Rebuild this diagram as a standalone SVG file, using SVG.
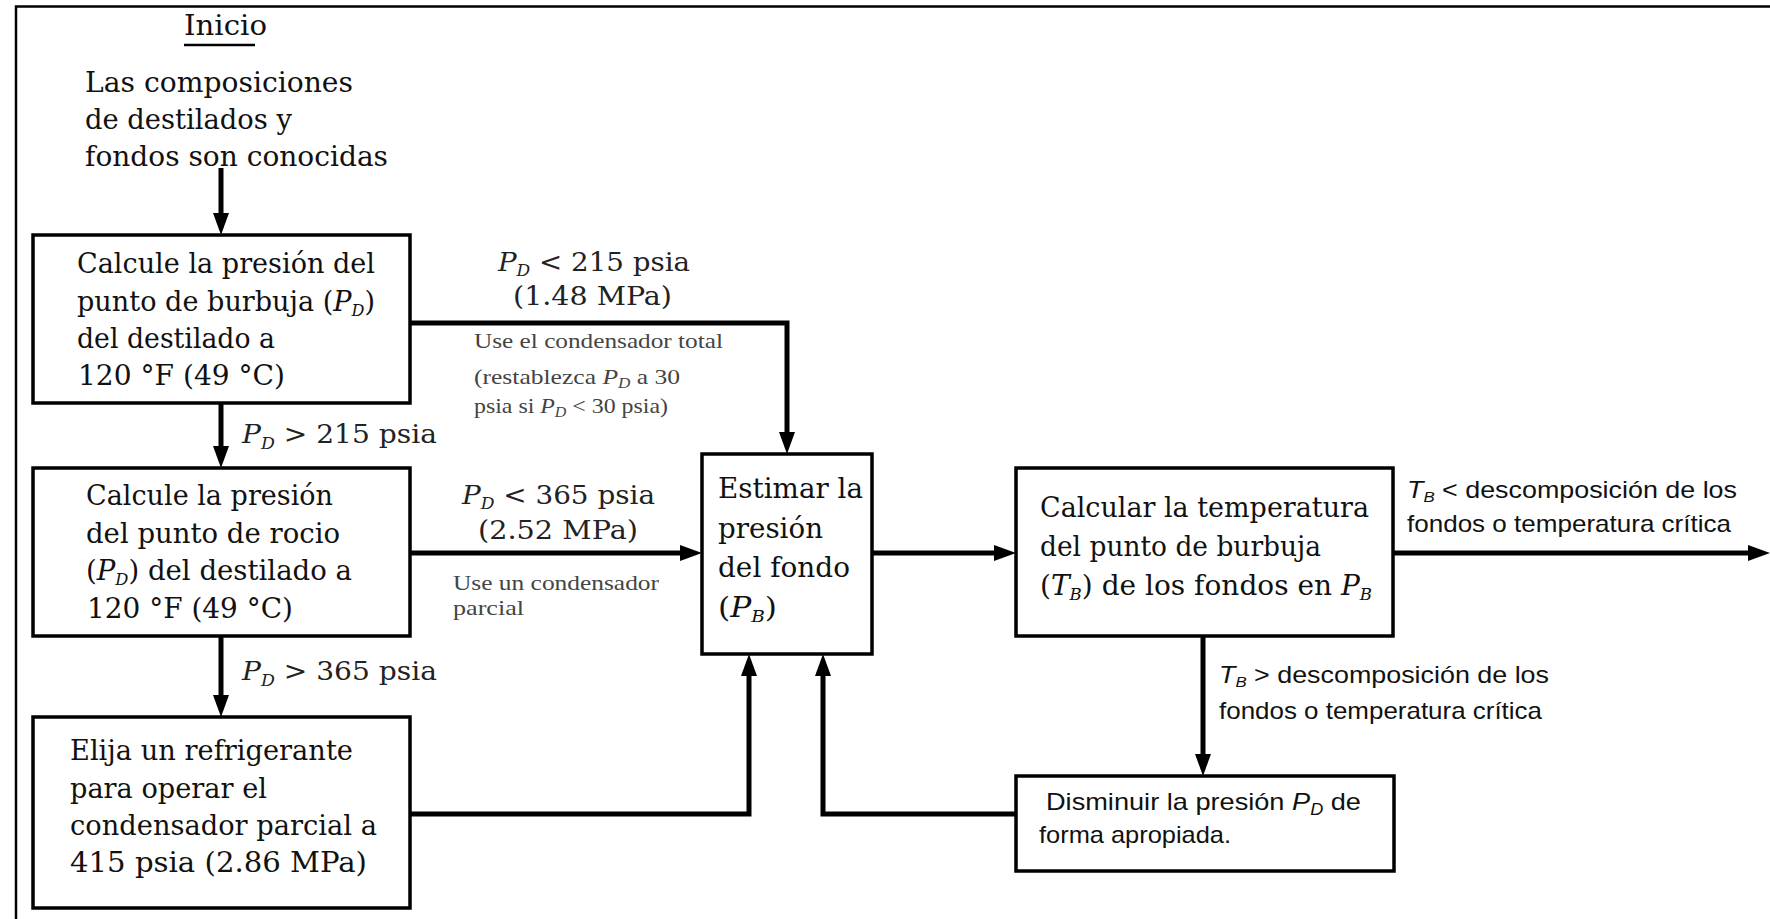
<svg xmlns="http://www.w3.org/2000/svg" width="1770" height="919" viewBox="0 0 1770 919">
<style>
.frame{fill:none;stroke:#000;stroke-width:2.5}
.box{fill:#fff;stroke:#000;stroke-width:3.5}
.conn{fill:none;stroke:#000;stroke-width:5}
.t{font-family:"DejaVu Serif","Liberation Serif",serif;font-size:27px;fill:#111}
.lab{font-family:"DejaVu Serif","Liberation Serif",serif;font-size:26px;fill:#222}
.sm{font-family:"Liberation Serif","DejaVu Serif",serif;font-size:21px;fill:#444}
.ss{font-family:"Liberation Sans","Noto Sans",sans-serif;font-size:24px;fill:#111}
.i{font-style:italic}
</style>
<defs>
<marker id="ah" markerUnits="userSpaceOnUse" markerWidth="24" markerHeight="20" viewBox="0 -10 24 20" refX="0" refY="0" orient="auto">
<path d="M0,-8 L22,0 L0,8 z" fill="#000"/>
</marker>
</defs>
<rect width="1770" height="919" fill="#fff"/>
<path class="frame" d="M16 925 V6.5 H1775"/>

<g id="inicio">
<text class="t" x="184" y="35" textLength="83" lengthAdjust="spacingAndGlyphs">Inicio</text>
<line x1="184" y1="45" x2="255" y2="45" stroke="#000" stroke-width="2.5"/>
</g>
<g id="known">
<text class="t" x="85" y="92" font-size="28" textLength="268" lengthAdjust="spacingAndGlyphs">Las composiciones</text>
<text class="t" x="85" y="129" font-size="28" textLength="207" lengthAdjust="spacingAndGlyphs">de destilados y</text>
<text class="t" x="85" y="166" font-size="28" textLength="303" lengthAdjust="spacingAndGlyphs">fondos son conocidas</text>
</g>

<g id="connectors">
<path class="conn" d="M221 168 V213" marker-end="url(#ah)"/>
<path class="conn" d="M410 323 H787 V432" marker-end="url(#ah)"/>
<path class="conn" d="M221 403 V446" marker-end="url(#ah)"/>
<path class="conn" d="M410 553 H680" marker-end="url(#ah)"/>
<path class="conn" d="M221 636 V695" marker-end="url(#ah)"/>
<path class="conn" d="M410 814 H749 V676" marker-end="url(#ah)"/>
<path class="conn" d="M1016 814 H823 V676" marker-end="url(#ah)"/>
<path class="conn" d="M872 553 H994" marker-end="url(#ah)"/>
<path class="conn" d="M1203 636 V754" marker-end="url(#ah)"/>
<path class="conn" d="M1393 553 H1748" marker-end="url(#ah)"/>
</g>

<g id="labels">
<text class="lab" x="498" y="271" textLength="192" lengthAdjust="spacingAndGlyphs"><tspan class="i">P</tspan><tspan font-size="16" dy="5" class="i">D</tspan><tspan dy="-5"> &lt; 215 psia</tspan></text>
<text class="lab" x="513" y="305" textLength="159" lengthAdjust="spacingAndGlyphs">(1.48 MPa)</text>
<text class="sm" x="474" y="348" textLength="249" lengthAdjust="spacingAndGlyphs">Use el condensador total</text>
<text class="sm" x="474" y="384" textLength="206" lengthAdjust="spacingAndGlyphs">(restablezca <tspan class="i">P</tspan><tspan font-size="14" dy="4" class="i">D</tspan><tspan dy="-4"> a 30</tspan></text>
<text class="sm" x="474" y="413" textLength="194" lengthAdjust="spacingAndGlyphs">psia si <tspan class="i">P</tspan><tspan font-size="14" dy="4" class="i">D</tspan><tspan dy="-4"> &lt; 30 psia)</tspan></text>

<text class="lab" x="242" y="443" textLength="195" lengthAdjust="spacingAndGlyphs"><tspan class="i">P</tspan><tspan font-size="16" dy="6" class="i">D</tspan><tspan dy="-6"> &gt; 215 psia</tspan></text>

<text class="lab" x="462" y="504" textLength="193" lengthAdjust="spacingAndGlyphs"><tspan class="i">P</tspan><tspan font-size="16" dy="5" class="i">D</tspan><tspan dy="-5"> &lt; 365 psia</tspan></text>
<text class="lab" x="478" y="539" textLength="160" lengthAdjust="spacingAndGlyphs">(2.52 MPa)</text>
<text class="sm" x="453" y="590" textLength="206" lengthAdjust="spacingAndGlyphs">Use un condensador</text>
<text class="sm" x="453" y="615" textLength="71" lengthAdjust="spacingAndGlyphs">parcial</text>

<text class="lab" x="242" y="680" textLength="195" lengthAdjust="spacingAndGlyphs"><tspan class="i">P</tspan><tspan font-size="16" dy="6" class="i">D</tspan><tspan dy="-6"> &gt; 365 psia</tspan></text>

<text class="ss" x="1407" y="498" textLength="330" lengthAdjust="spacingAndGlyphs"><tspan class="i">T</tspan><tspan font-size="15" dy="4" class="i">B</tspan><tspan dy="-4"> &lt; descomposición de los</tspan></text>
<text class="ss" x="1407" y="532" textLength="324" lengthAdjust="spacingAndGlyphs">fondos o temperatura crítica</text>

<text class="ss" x="1219" y="683" textLength="330" lengthAdjust="spacingAndGlyphs"><tspan class="i">T</tspan><tspan font-size="15" dy="4" class="i">B</tspan><tspan dy="-4"> &gt; descomposición de los</tspan></text>
<text class="ss" x="1219" y="719" textLength="323" lengthAdjust="spacingAndGlyphs">fondos o temperatura crítica</text>
</g>

<g id="box1">
<rect class="box" x="33" y="235" width="377" height="168"/>
<text class="t" x="77" y="273" textLength="298" lengthAdjust="spacingAndGlyphs">Calcule la presión del</text>
<text class="t" x="77" y="311" textLength="298" lengthAdjust="spacingAndGlyphs">punto de burbuja (<tspan class="i">P</tspan><tspan font-size="16" dy="5" class="i">D</tspan><tspan dy="-5">)</tspan></text>
<text class="t" x="77" y="348" textLength="198" lengthAdjust="spacingAndGlyphs">del destilado a</text>
<text class="t" x="78" y="385" textLength="207" lengthAdjust="spacingAndGlyphs">120 °F (49 °C)</text>
</g>

<g id="box2">
<rect class="box" x="33" y="468" width="377" height="168"/>
<text class="t" x="86" y="505" textLength="247" lengthAdjust="spacingAndGlyphs">Calcule la presión</text>
<text class="t" x="86" y="543" textLength="254" lengthAdjust="spacingAndGlyphs">del punto de rocio</text>
<text class="t" x="86" y="580" textLength="266" lengthAdjust="spacingAndGlyphs">(<tspan class="i">P</tspan><tspan font-size="16" dy="5" class="i">D</tspan><tspan dy="-5">) del destilado a</tspan></text>
<text class="t" x="87" y="618" textLength="206" lengthAdjust="spacingAndGlyphs">120 °F (49 °C)</text>
</g>

<g id="box3">
<rect class="box" x="33" y="717" width="377" height="191"/>
<text class="t" x="70" y="760" textLength="283" lengthAdjust="spacingAndGlyphs">Elija un refrigerante</text>
<text class="t" x="70" y="798" textLength="197" lengthAdjust="spacingAndGlyphs">para operar el</text>
<text class="t" x="70" y="835" textLength="307" lengthAdjust="spacingAndGlyphs">condensador parcial a</text>
<text class="t" x="70" y="872" textLength="297" lengthAdjust="spacingAndGlyphs">415 psia (2.86 MPa)</text>
</g>

<g id="estimar">
<rect class="box" x="702" y="454" width="170" height="200"/>
<text class="t" x="718" y="498" textLength="145" lengthAdjust="spacingAndGlyphs">Estimar la</text>
<text class="t" x="718" y="538" textLength="105" lengthAdjust="spacingAndGlyphs">presión</text>
<text class="t" x="718" y="577" textLength="132" lengthAdjust="spacingAndGlyphs">del fondo</text>
<text class="t" x="718" y="617" textLength="59" lengthAdjust="spacingAndGlyphs">(<tspan class="i">P</tspan><tspan font-size="16" dy="5" class="i">B</tspan><tspan dy="-5">)</tspan></text>
</g>

<g id="box4">
<rect class="box" x="1016" y="468" width="377" height="168"/>
<text class="t" x="1040" y="517" textLength="329" lengthAdjust="spacingAndGlyphs">Calcular la temperatura</text>
<text class="t" x="1040" y="556" textLength="281" lengthAdjust="spacingAndGlyphs">del punto de burbuja</text>
<text class="t" x="1040" y="595" textLength="332" lengthAdjust="spacingAndGlyphs">(<tspan class="i">T</tspan><tspan font-size="16" dy="5" class="i">B</tspan><tspan dy="-5">) de los fondos en </tspan><tspan class="i">P</tspan><tspan font-size="16" dy="5" class="i">B</tspan></text>
</g>

<g id="disminuir">
<rect class="box" x="1016" y="776" width="378" height="95"/>
<text class="ss" x="1046" y="810" textLength="315" lengthAdjust="spacingAndGlyphs">Disminuir la presión <tspan class="i">P</tspan><tspan font-size="16" dy="5" class="i">D</tspan><tspan dy="-5"> de</tspan></text>
<text class="ss" x="1039" y="843" textLength="192" lengthAdjust="spacingAndGlyphs">forma apropiada.</text>
</g>
</svg>
